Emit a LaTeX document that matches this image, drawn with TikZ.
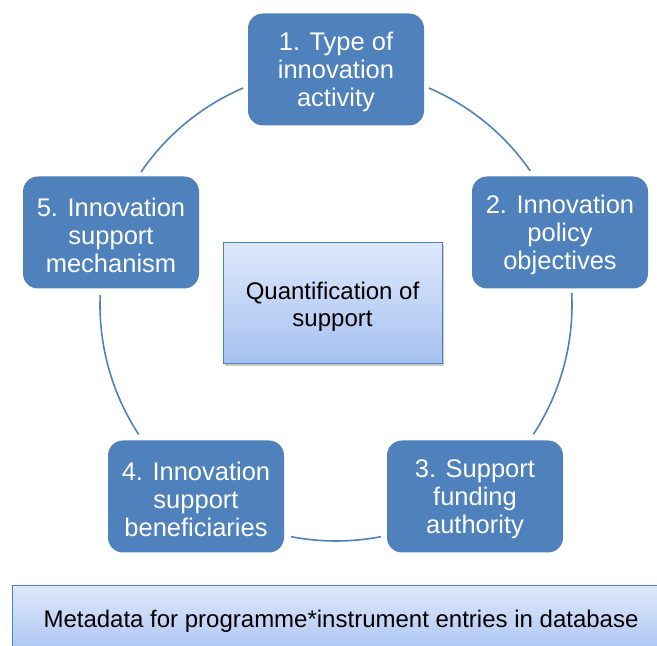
\documentclass[tikz,border=0pt]{standalone}
\usepackage{fontspec}
\setmainfont{Liberation Sans}
\usetikzlibrary{shadows}
\definecolor{boxblue}{RGB}{79,129,189}
\definecolor{lighttop}{RGB}{222,232,251}
\definecolor{lightbot}{RGB}{166,193,241}
\definecolor{edgeblue}{RGB}{79,129,189}
\tikzset{
  stage/.style={draw=none, fill=boxblue, rounded corners=15pt, minimum width=176pt, minimum height=112pt, inner sep=0pt},
  stagetext/.style={text=white, align=center, font=\fontsize{25.5}{28}\selectfont, inner sep=0pt, yshift=-2.5pt},
  infobox/.style={draw=edgeblue, line width=1pt, top color=lighttop, bottom color=lightbot,
    drop shadow={shadow xshift=1.5pt, shadow yshift=-2pt, opacity=0.35, fill=black!60},
    align=center, text=black, inner sep=0pt},
  ring/.style={draw=boxblue, line width=1.6pt}
}
\begin{document}
\begin{tikzpicture}[x=1pt,y=1pt]
\useasboundingbox (0,0) rectangle (657,646);
\coordinate (C) at (336,341);
% ring arcs
\draw[ring] (C) ++(113.2:236pt) arc[start angle=113.2, end angle=145.7, radius=236pt];
\draw[ring] (C) ++(66.8:236pt) arc[start angle=66.8, end angle=34.6, radius=236pt];
\draw[ring] (C) ++(177.6:236pt) arc[start angle=177.6, end angle=213.3, radius=236pt];
\draw[ring] (C) ++(2.9:236pt) arc[start angle=2.9, end angle=-33.2, radius=236pt];
\draw[ring] (C) ++(-101:236pt) arc[start angle=-101, end angle=-79, radius=236pt];
% stage boxes
\node[stage] (s1) at (336,576.5) {};
\node[stage] (s2) at (560,413.5) {};
\node[stage] (s3) at (475,149.5) {};
\node[stage] (s4) at (196,149.5) {};
\node[stage] (s5) at (111,413.5) {};
\node[stagetext] (t1) at (s1) {1. Type of\\innovation\\activity};
\node[stagetext] (t2) at (s2) {2. Innovation\\policy\\objectives};
\node[stagetext] (t3) at (s3) {3. Support\\funding\\authority};
\node[stagetext] (t4) at (s4) {4. Innovation\\support\\beneficiaries};
\node[stagetext] (t5) at (s5) {5. Innovation\\support\\mechanism};
% centre box
\node[infobox, minimum width=219pt, minimum height=121pt] (q) at (332.5,342.5) {};
\node[font=\fontsize{24}{27}\selectfont, align=center, inner sep=0pt, yshift=-3pt] (qt) at (q) {Quantification of\\support};
% bottom box
\draw[infobox] (12,60) rectangle (675,-14);
\node[font=\fontsize{24}{27}\selectfont, inner sep=0pt] (meta) at (341,25) {Metadata for programme*instrument entries in database};
\end{tikzpicture}
\end{document}
